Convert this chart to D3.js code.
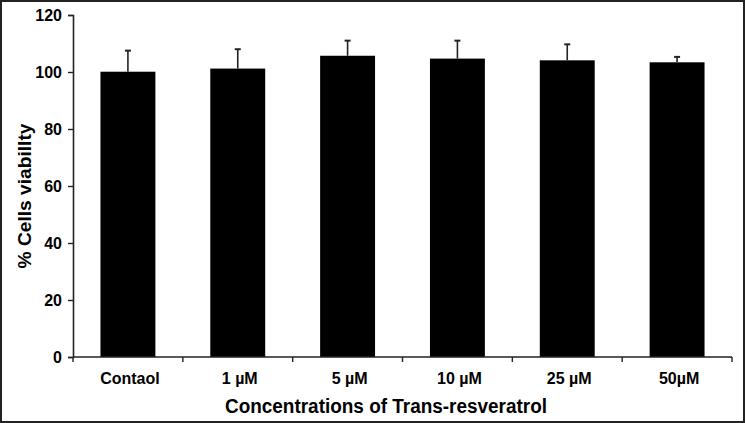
<!DOCTYPE html>
<html>
<head>
<meta charset="utf-8">
<script src="https://cdn.jsdelivr.net/npm/d3@7/dist/d3.min.js"></script>
<style>
  html, body { margin: 0; padding: 0; background: #fff; }
  svg { display: block; }
  text { font-family: "Liberation Sans", Arial, sans-serif; font-weight: bold; fill: #000; }
</style>
</head>
<body>
<svg id="chart" width="745" height="423"></svg>
<script>
const categories = ["Contaol", "1 \u00b5M", "5 \u00b5M", "10 \u00b5M", "25 \u00b5M", "50\u00b5M"];
const viability = [100.1, 101.2, 105.7, 104.7, 104.1, 103.4];
const errorUp = [7.4, 6.8, 5.3, 6.3, 5.6, 1.9];
const yTicks = [0, 20, 40, 60, 80, 100, 120];
const xTitle = "Concentrations of Trans-resveratrol";
const yTitle = "% Cells viabillty";

(function () {
const W = 745, H = 423;
const svg = d3.select("#chart");

// frame
svg.append("rect").attr("x", 1).attr("y", 1).attr("width", W - 2).attr("height", H - 2)
  .attr("fill", "#fff").attr("stroke", "#222").attr("stroke-width", 2);

const mLeft = 73, mRight = 732, mTop = 15, mBottom = 357;

const x = d3.scaleBand().domain(categories).range([mLeft, mRight])
  .paddingInner(0.5).paddingOuter(0.25);
const y = d3.scaleLinear().domain([0, 120]).range([mBottom, mTop]);

const data = categories.map((c, i) => ({ c, v: viability[i], e: errorUp[i] }));

// bars
svg.append("g").selectAll("rect").data(data).join("rect")
  .attr("x", d => x(d.c)).attr("y", d => y(d.v))
  .attr("width", x.bandwidth()).attr("height", d => y(0) - y(d.v))
  .attr("fill", "#000");

// error bars (upward only)
const eb = svg.append("g").attr("stroke", "#222").attr("stroke-width", 1.6);
eb.selectAll("line.v").data(data).join("line").attr("class", "v")
  .attr("x1", d => x(d.c) + x.bandwidth() / 2).attr("x2", d => x(d.c) + x.bandwidth() / 2)
  .attr("y1", d => y(d.v)).attr("y2", d => y(d.v + d.e));
eb.selectAll("line.cap").data(data).join("line").attr("class", "cap")
  .attr("stroke-width", 2)
  .attr("x1", d => x(d.c) + x.bandwidth() / 2 - 3).attr("x2", d => x(d.c) + x.bandwidth() / 2 + 3)
  .attr("y1", d => y(d.v + d.e)).attr("y2", d => y(d.v + d.e));

// y axis
const yAxis = d3.axisLeft(y).tickValues(yTicks).tickSize(5).tickPadding(6);
const gy = svg.append("g").attr("transform", `translate(${mLeft},0)`).call(yAxis);
gy.select(".domain").attr("stroke", "#222").attr("stroke-width", 1.6);
gy.selectAll(".tick line").attr("stroke", "#222").attr("stroke-width", 1.4);
gy.selectAll(".tick text").style("font-size", "16px").style("font-weight", "bold")
  .style("font-family", "'Liberation Sans', Arial, sans-serif").attr("fill", "#000");

// x axis: baseline + ticks at band boundaries
const gx = svg.append("g");
gx.append("line").attr("x1", mLeft).attr("x2", mRight).attr("y1", y(0)).attr("y2", y(0))
  .attr("stroke", "#222").attr("stroke-width", 1.6);
const gap = (x.step() - x.bandwidth()) / 2;
const bounds = categories.map(c => x(c) - gap).concat([x(categories[categories.length - 1]) + x.bandwidth() + gap]);
gx.selectAll("line.t").data(bounds).join("line").attr("class", "t")
  .attr("x1", d => d).attr("x2", d => d).attr("y1", y(0)).attr("y2", y(0) + 5)
  .attr("stroke", "#222").attr("stroke-width", 1.4);
gx.selectAll("text").data(categories).join("text")
  .attr("x", d => x(d) + x.bandwidth() / 2 + 2).attr("y", y(0) + 27)
  .attr("text-anchor", "middle").style("font-size", "16px").text(d => d);

// titles
svg.append("text").attr("x", 386).attr("y", 413).attr("text-anchor", "middle")
  .style("font-size", "20px").style("font-weight", "bold")
  .attr("textLength", 322).attr("lengthAdjust", "spacingAndGlyphs")
  .text(xTitle);
svg.append("text").attr("transform", "translate(31,196) rotate(-90)")
  .attr("text-anchor", "middle").style("font-size", "19px")
  .attr("textLength", 145).attr("lengthAdjust", "spacingAndGlyphs")
  .text(yTitle);
})();
</script>
</body>
</html>
